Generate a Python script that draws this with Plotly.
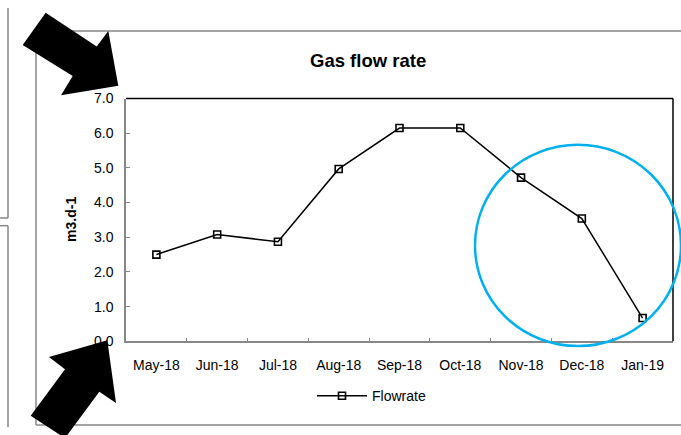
import plotly.graph_objects as go

# Monthly gas flow rate (m3.d-1)
months = ["May-18", "Jun-18", "Jul-18", "Aug-18", "Sep-18",
          "Oct-18", "Nov-18", "Dec-18", "Jan-19"]
flowrate = [2.50, 3.08, 2.87, 4.97, 6.15, 6.15, 4.72, 3.54, 0.67]
y_ticks = [0, 1, 2, 3, 4, 5, 6, 7]

W, H = 681, 435
FONT = "Liberation Sans, Arial, sans-serif"
GRAY = "#878787"


def px(x):
    return x / W


def py(y):
    return 1 - y / H


def poly(points):
    return "M " + " L ".join(f"{px(x):.5f},{py(y):.5f}" for x, y in points) + " Z"


fig = go.Figure(
    go.Scatter(
        x=months, y=flowrate, mode="lines+markers", name="Flowrate",
        line=dict(color="black", width=1.5),
        marker=dict(symbol="square-open", size=7, color="black",
                    line=dict(color="black", width=1.6)),
    )
)

plot_l, plot_r, plot_t, plot_b = 126, 673, 94, 346

shapes = []
# chart frame and side panel outlines
for x0, y0, x1, y1 in [
    (36, 24, 681, 24), (36, 24, 36, 433), (36, 433, 681, 433),
    (8, 0, 8, 218), (0, 218, 8, 218), (0, 226, 8, 226), (8, 226, 8, 435),
]:
    shapes.append(dict(type="line", xref="paper", yref="paper",
                       x0=px(x0), y0=py(y0), x1=px(x1), y1=py(y1),
                       line=dict(color=GRAY, width=1.5)))
# top and right plot borders
for x0, y0, x1, y1 in [(plot_l, plot_t, plot_r, plot_t), (plot_r, plot_t, plot_r, plot_b)]:
    shapes.append(dict(type="line", xref="paper", yref="paper",
                       x0=px(x0), y0=py(y0), x1=px(x1), y1=py(y1),
                       line=dict(color="black", width=1.5)))
# highlight circle
shapes.append(dict(type="circle", xref="paper", yref="paper",
                   x0=px(475), x1=px(681), y0=py(351), y1=py(142),
                   line=dict(color="#00B0F0", width=2.5)))
# pointer arrows
arrow_top = [(45.7, 5), (22.7, 38.3), (72.7, 70.7), (61, 90.7),
             (118.3, 80.7), (108.3, 24), (96.7, 40)]
arrow_bottom = [(107.3, 345), (49, 362.3), (65, 375), (30.7, 423.3),
                (65, 446.6), (99.3, 398.3), (116, 410)]
for pts in (arrow_top, arrow_bottom):
    shapes.append(dict(type="path", xref="paper", yref="paper", path=poly(pts),
                       fillcolor="black", line=dict(width=0), layer="above"))

annotations = [
    dict(text="<b>Gas flow rate</b>", xref="paper", yref="paper",
         x=px(368), y=py(55), xanchor="center", yanchor="middle", showarrow=False,
         font=dict(family=FONT, size=18.5, color="black")),
    dict(text="<b>m3.d-1</b>", xref="paper", yref="paper",
         x=px(71), y=py(220), xanchor="center", yanchor="middle",
         showarrow=False, textangle=-90,
         font=dict(family=FONT, size=14, color="black")),
]

fig.update_layout(
    width=W, height=H,
    margin=dict(l=0, r=0, t=0, b=0),
    paper_bgcolor="white", plot_bgcolor="white",
    font=dict(family=FONT, size=13, color="black"),
    showlegend=True,
    legend=dict(x=px(312), y=py(403), xanchor="left", yanchor="middle",
                orientation="h", itemwidth=50, bgcolor="rgba(0,0,0,0)",
                font=dict(family=FONT, size=14, color="black")),
    xaxis=dict(
        domain=[px(plot_l), px(plot_r)], type="category", range=[-0.5, 8.5],
        showline=True, linecolor=GRAY, linewidth=1.5, showgrid=False, zeroline=False,
        ticks="inside", ticklen=4, tickcolor=GRAY, tickwidth=1, tickson="boundaries",
        tickfont=dict(family=FONT, size=14, color="black"), ticklabelstandoff=10,
    ),
    yaxis=dict(
        domain=[py(plot_b), py(plot_t)], range=[0, 7],
        tickvals=y_ticks, ticktext=[f"{v:.1f}" for v in y_ticks],
        showline=True, linecolor=GRAY, linewidth=1.5, showgrid=False, zeroline=False,
        ticks="inside", ticklen=4, tickcolor=GRAY, tickwidth=1,
        tickfont=dict(family=FONT, size=14, color="black"), ticklabelstandoff=8,
    ),
    shapes=shapes,
    annotations=annotations,
)

fig.write_html("out.html")
